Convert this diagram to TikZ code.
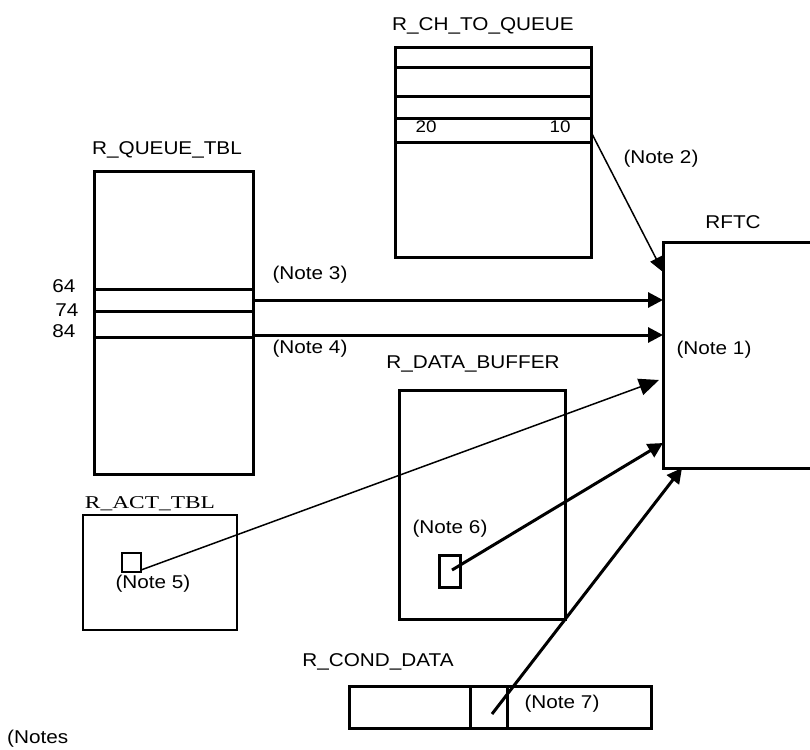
\documentclass[tikz,border=0pt]{standalone}
\usepackage{fontspec}
\setmainfont{Liberation Sans}
\newfontfamily\tmsfont{Liberation Serif}
\usetikzlibrary{arrows.meta}
\newcommand{\lbltext}[1]{\scalebox{1.12}[1]{#1}}
\begin{document}
\begin{tikzpicture}[x=1pt,y=-1pt,
  lbl/.style={inner sep=0pt, font=\fontsize{18.5}{22}\selectfont, anchor=base},
  smalllbl/.style={inner sep=0pt, font=\fontsize{16.8}{20}\selectfont, anchor=base},
  tbox/.style={draw, line width=3pt, inner sep=0pt, outer sep=0pt, anchor=north west},
  thinbox/.style={draw, line width=1.5pt, inner sep=0pt, outer sep=0pt, anchor=north west},
  thickarrow/.style={line width=3pt, -{Triangle[length=15pt,width=15pt]}},
  thinarrow/.style={line width=1.5pt, -{Triangle[length=15pt,width=13pt]}},
  bigthinarrow/.style={line width=1.5pt, -{Triangle[length=20pt,width=17pt]}},
  divider/.style={line width=3pt},
]
\useasboundingbox (0,0) rectangle (810,749);
\clip (0,0) rectangle (810,749);
\fill[white] (0,0) rectangle (810,749);

% R_CH_TO_QUEUE
\node[tbox, minimum width=196pt, minimum height=209pt] (chq) at (395,48) {};
\draw[divider] (395,68) -- (591,68);
\draw[divider] (395,97) -- (591,97);
\draw[divider] (395,118) -- (591,118);
\draw[divider] (395,142) -- (591,142);
\node[lbl] (tchq) at (483,31) {\lbltext{R\_CH\_TO\_QUEUE}};
\node[smalllbl] (t20) at (426,132) {\lbltext{20}};
\node[smalllbl] (t10) at (560,132) {\lbltext{10}};

% R_QUEUE_TBL
\node[tbox, minimum width=159pt, minimum height=303pt] (qtbl) at (94,171) {};
\draw[divider] (94,289) -- (253,289);
\draw[divider] (94,311) -- (253,311);
\draw[divider] (94,337) -- (253,337);
\node[lbl] (tqtbl) at (167,154) {\lbltext{R\_QUEUE\_TBL}};
\node[lbl] (t64) at (64,292) {\lbltext{64}};
\node[lbl] (t74) at (67,316) {\lbltext{74}};
\node[lbl] (t84) at (64,337) {\lbltext{84}};
\node[lbl] (tn3) at (310,279) {\lbltext{(Note 3)}};
\node[lbl] (tn4) at (310,353) {\lbltext{(Note 4)}};

% RFTC
\node[tbox, minimum width=170pt, minimum height=226pt] (rftc) at (663,242) {};
\node[lbl] (trftc) at (733,228) {\lbltext{RFTC}};
\node[lbl] (tn1) at (714,354) {\lbltext{(Note 1)}};
\node[lbl] (tn2) at (661,163) {\lbltext{(Note 2)}};

% R_DATA_BUFFER
\node[tbox, minimum width=166pt, minimum height=229pt] (dbuf) at (399,390) {};
\node[tbox, minimum width=21pt, minimum height=32pt] (dcell) at (439,555) {};
\node[lbl] (tdbuf) at (473,368) {\lbltext{R\_DATA\_BUFFER}};
\node[lbl] (tn6) at (450,533) {\lbltext{(Note 6)}};

% R_ACT_TBL
\node[thinbox, minimum width=154pt, minimum height=115pt] (act) at (83,515) {};
\node[thinbox, minimum width=19pt, minimum height=19pt] (acell) at (122,553) {};
\node[inner sep=0pt, anchor=base, font=\tmsfont\fontsize{18}{22}\selectfont] (tact) at (150,508) {\scalebox{1.3}[1]{R\_ACT\_TBL}};
\node[lbl] (tn5) at (153,588) {\lbltext{(Note 5)}};

% R_COND_DATA
\node[tbox, minimum width=302pt, minimum height=42pt] (cond) at (349,686) {};
\draw[divider] (470,686) -- (470,728);
\draw[divider] (507,686) -- (507,728);
\node[lbl] (tcond) at (378,666) {\lbltext{R\_COND\_DATA}};
\node[lbl] (tn7) at (562,708) {\lbltext{(Note 7)}};

% Notes
\node[lbl, anchor=base west] (tnotes) at (7,743) {\lbltext{(Notes}};

% connector end points
\coordinate (n2s) at (591,132);
\coordinate (n2e) at (663,272);
\coordinate (n3s) at (253,300);
\coordinate (n3e) at (663,300);
\coordinate (n4s) at (253,335);
\coordinate (n4e) at (663,335);
\coordinate (n5s) at (141,570);
\coordinate (n5e) at (659,380);
\coordinate (n6s) at (452,570);
\coordinate (n6e) at (663,443);
\coordinate (n7s) at (492,714);
\coordinate (n7e) at (682,468);

\draw[thinarrow] (n2s) -- (n2e);
\draw[thickarrow] (n3s) -- (n3e);
\draw[thickarrow] (n4s) -- (n4e);
\draw[bigthinarrow] (n5s) -- (n5e);
\draw[thickarrow] (n6s) -- (n6e);
\draw[thickarrow] (n7s) -- (n7e);
\end{tikzpicture}
\end{document}
